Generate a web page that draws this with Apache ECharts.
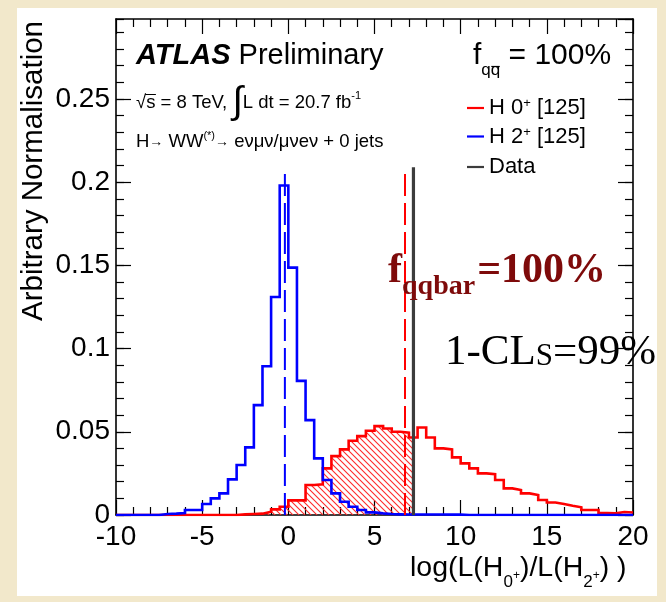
<!DOCTYPE html>
<html>
<head>
<meta charset="utf-8">
<script src="https://cdn.jsdelivr.net/npm/echarts@6/dist/echarts.min.js"></script>
<style>
  html, body { margin: 0; padding: 0; background: #f2e8cb; }
  #chart { width: 666px; height: 602px; }
</style>
</head>
<body>
<div id="chart"></div>
<script>
const SANS = '"Liberation Sans", Arial, Helvetica, sans-serif';
const SERIF = '"Liberation Serif", "Times New Roman", serif';

// Histogram binning: 60 bins of width 0.5 covering -10 .. 20
const binStart = -10;
const binWidth = 0.5;

// Pseudo-experiment distributions of the test statistic (arbitrary normalisation)
const h0Values = [
  0, 0, 0, 0, 0, 0, 0, 0, 0, 0,
  0, 0, 0, 0, 0.0004, 0.0006, 0.0008, 0.002, 0.0034, 0.005,
  0.0088, 0.0088, 0.018, 0.0185, 0.028, 0.0354, 0.0394, 0.0446, 0.0474, 0.0506,
  0.0534, 0.052, 0.050, 0.0494, 0.0466, 0.0526, 0.0466, 0.040, 0.0394, 0.0346,
  0.031, 0.028, 0.025, 0.0245, 0.021, 0.016, 0.015, 0.013, 0.012, 0.009,
  0.0075, 0.0066, 0.0055, 0.0046, 0.003, 0.003, 0.0012, 0.001, 0.0018, 0.0015
];
const h2Values = [
  0, 0, 0, 0, 0, 0.0006, 0.0008, 0.0012, 0.003, 0.003,
  0.0066, 0.010, 0.013, 0.0214, 0.030, 0.0406, 0.066, 0.0894, 0.131, 0.198,
  0.1486, 0.0806, 0.057, 0.034, 0.021, 0.013, 0.008, 0.005, 0.003, 0.0016,
  0.001, 0.0006, 0.0004, 0.0003, 0.0003, 0.0003, 0.0003, 0.0003, 0.0002, 0.0002,
  0, 0, 0, 0, 0, 0, 0, 0, 0, 0,
  0, 0, 0, 0, 0, 0, 0, 0, 0, 0
];

// Medians of the two hypotheses and the observed value
const h2Median = -0.2;
const h0Median = 6.77;
const observedValue = 7.26;
const markerTop = 0.209;

// Axis ranges and steps
const xRange = [-10, 20];
const xStep = 5;
const yRange = [0, 0.298];
const yStep = 0.05;
const yMinorStep = 0.01;

// Legend entries
const legendNames = ['H0', 'H2', 'Data'];
const legendLabels = {
  H0: '{t|H 0}{s|+}{t| [125]}',
  H2: '{t|H 2}{s|+}{t| [125]}',
  Data: '{t|Data}'
};
const legendRowTop = [97, 125.5, 156];

// Step-histogram points: left edge of every bin plus a closing point
function stepPoints(values, cutAt) {
  const pts = [];
  for (let i = 0; i < values.length; i++) {
    const x = binStart + i * binWidth;
    if (cutAt !== undefined && x >= cutAt) break;
    pts.push([x, values[i]]);
  }
  const endX = cutAt !== undefined ? cutAt : binStart + values.length * binWidth;
  pts.push([endX, pts[pts.length - 1][1]]);
  return pts;
}

// Diagonal red hatching for the area below the observed value
const hatch = document.createElement('canvas');
hatch.width = 6; hatch.height = 6;
(function () {
  const g = hatch.getContext('2d');
  g.strokeStyle = '#ff2a2a';
  g.lineWidth = 1.1;
  g.beginPath();
  g.moveTo(-1, -1); g.lineTo(7, 7);
  g.moveTo(-1, 5); g.lineTo(1, 7);
  g.moveTo(5, -1); g.lineTo(7, 1);
  g.stroke();
})();

// Text runs with sub/superscripts, laid out with measured widths
const measure = document.createElement('canvas').getContext('2d');
function fontOf(p) {
  return (p.italic ? 'italic ' : '') + (p.bold ? 'bold ' : '') + p.size + 'px ' + (p.family || SANS);
}
function textRun(x, baseline, pieces, color) {
  const els = [];
  let cx = x;
  pieces.forEach(p => {
    const font = fontOf(p);
    measure.font = font;
    const w = measure.measureText(p.t).width;
    const k = (p.family || SANS) === SERIF ? 0.3375 : 0.3465;
    els.push({
      type: 'text', z: 100,
      x: cx, y: baseline - (p.rise || 0) - k * p.size,
      style: { text: p.t, font: font, fill: p.color || color || '#000', align: 'left', verticalAlign: 'middle' }
    });
    cx += w + (p.after || 0);
  });
  return { els: els, end: cx };
}

const graphics = [];
// white plotting panel
graphics.push({ type: 'rect', z: -100, shape: { x: 17, y: 8, width: 640, height: 588 }, style: { fill: '#ffffff' } });

// y axis title
graphics.push({
  type: 'text', z: 100, x: 34, y: 21, rotation: Math.PI / 2,
  style: { text: 'Arbitrary Normalisation', font: '29.5px ' + SANS, fill: '#000', align: 'right', verticalAlign: 'middle' }
});

// x axis title
graphics.push(...textRun(410, 578, [
  { t: 'log(L(H', size: 28.5 },
  { t: '0', size: 17, rise: -10 },
  { t: '+', size: 12, rise: -2 },
  { t: ')/L(H', size: 28.5 },
  { t: '2', size: 17, rise: -10 },
  { t: '+', size: 12, rise: -2 },
  { t: ') )', size: 28.5 }
]).els);

// experiment label
graphics.push(...textRun(136, 66, [
  { t: 'ATLAS', size: 29, bold: true, italic: true },
  { t: ' Preliminary', size: 29 }
]).els);

const r1 = textRun(136, 109, [
  { t: '\u221As = 8 TeV, ', size: 18.5 },
  { t: '\u222B', size: 38, rise: -7 },
  { t: 'L dt = 20.7 fb', size: 18.5 },
  { t: '-1', size: 11, rise: 9 }
]);
graphics.push(...r1.els);
// vinculum over the s of sqrt(s)
measure.font = '18.5px ' + SANS;
const rootW = measure.measureText('\u221A').width;
const sW = measure.measureText('s').width;
graphics.push({ type: 'line', z: 100, shape: { x1: 136 + rootW - 1, y1: 94.5, x2: 136 + rootW + sW + 0.5, y2: 94.5 }, style: { stroke: '#000', lineWidth: 1 } });

graphics.push(...textRun(136, 148, [
  { t: 'H', size: 18.5 },
  { t: '\u2192', size: 14, rise: 1 },
  { t: ' WW', size: 18.5 },
  { t: '(*)', size: 11, rise: 8 },
  { t: '\u2192', size: 14, rise: 1 },
  { t: ' e\u03BD\u03BC\u03BD/\u03BC\u03BDe\u03BD + 0 jets', size: 18.5 }
]).els);

// f_qq fraction in the legend header
const fq = textRun(473, 66, [
  { t: 'f', size: 30 },
  { t: 'qq', size: 17, rise: -10 },
  { t: ' = 100%', size: 30 }
]);
graphics.push(...fq.els);
measure.font = '30px ' + SANS;
const fW = measure.measureText('f').width;
measure.font = '17px ' + SANS;
const qW = measure.measureText('q').width;
graphics.push({ type: 'line', z: 100, shape: { x1: 473 + fW + qW + 0.5, y1: 66.5, x2: 473 + fW + 2 * qW - 0.5, y2: 66.5 }, style: { stroke: '#000', lineWidth: 1.2 } });

// large annotations
graphics.push(...textRun(388, 285, [
  { t: 'f', size: 42, bold: true, family: SERIF },
  { t: 'qqbar', size: 28, bold: true, family: SERIF, rise: -11, after: 2 },
  { t: '=100%', size: 42, bold: true, family: SERIF }
], '#7e0a0a').els);
graphics.push(...textRun(445, 367, [
  { t: '1-CL', size: 43, family: SERIF },
  { t: 'S', size: 31, family: SERIF },
  { t: '=99%', size: 43, family: SERIF }
], '#000').els);

const chart = echarts.init(document.getElementById('chart'), null, { renderer: 'canvas' });

function majorAxis(extra) {
  return Object.assign({
    type: 'value', splitLine: { show: false },
    axisLine: { show: true, onZero: false, lineStyle: { color: '#000', width: 1.6 } },
    axisTick: { show: true, inside: true, length: 15, lineStyle: { color: '#000', width: 1.2 } }
  }, extra);
}
function minorAxis(extra) {
  return Object.assign({
    type: 'value', splitLine: { show: false },
    axisLine: { show: false, onZero: false },
    axisLabel: { show: false },
    axisTick: { show: true, inside: true, length: 8, lineStyle: { color: '#000', width: 1.2 } }
  }, extra);
}
const xMinor = { show: true, splitNumber: 5, length: 8, lineStyle: { color: '#000', width: 1.2 } };
const tickFont = { color: '#000', fontSize: 28, fontFamily: SANS };

const legendText = {
  color: '#000', fontFamily: SANS, fontSize: 22,
  rich: {
    t: { fontSize: 22, lineHeight: 22, fontFamily: SANS, color: '#000' },
    s: { fontSize: 13, lineHeight: 13, fontFamily: SANS, color: '#000', verticalAlign: 'top' }
  }
};

const option = {
  backgroundColor: '#f2e8cb',
  animation: false,
  grid: { left: 116, right: 33, top: 19, bottom: 87, containLabel: false, outerBoundsMode: 'none' },
  xAxis: [
    majorAxis({ position: 'bottom', min: xRange[0], max: xRange[1], interval: xStep, minorTick: xMinor,
      axisLabel: Object.assign({ show: true, margin: 8 }, tickFont) }),
    majorAxis({ position: 'top', min: xRange[0], max: xRange[1], interval: xStep, minorTick: xMinor,
      axisLabel: { show: false } })
  ],
  yAxis: [
    majorAxis({ position: 'left', min: yRange[0], max: yRange[1], interval: yStep,
      axisLabel: Object.assign({ show: true, margin: 6, showMaxLabel: false }, tickFont) }),
    minorAxis({ position: 'left', min: yRange[0], max: yRange[1], interval: yMinorStep }),
    majorAxis({ position: 'right', min: yRange[0], max: yRange[1], interval: yStep, axisLabel: { show: false } }),
    minorAxis({ position: 'right', min: yRange[0], max: yRange[1], interval: yMinorStep })
  ],
  legend: legendNames.map((name, i) => ({
    left: 467, top: legendRowTop[i], padding: 0, itemWidth: 17, itemHeight: 2.2, icon: 'rect',
    selectedMode: false, data: [name],
    formatter: n => legendLabels[n],
    textStyle: legendText
  })),
  graphic: graphics,
  series: [
    {
      name: 'hatch', type: 'line', step: 'end', silent: true, symbol: 'none', z: 2,
      data: stepPoints(h0Values, observedValue),
      lineStyle: { width: 0, opacity: 0 },
      areaStyle: { color: { image: hatch, repeat: 'repeat' }, opacity: 1 }
    },
    {
      name: 'H0', type: 'line', step: 'end', symbol: 'none', z: 3,
      data: stepPoints(h0Values),
      itemStyle: { color: '#ff0000' },
      lineStyle: { color: '#ff0000', width: 2.6, join: 'miter', cap: 'butt' }
    },
    {
      name: 'H2', type: 'line', step: 'end', symbol: 'none', z: 4,
      data: stepPoints(h2Values),
      itemStyle: { color: '#0000ff' },
      lineStyle: { color: '#0000ff', width: 2.6, join: 'miter', cap: 'butt' }
    },
    {
      name: 'H2 median', type: 'line', symbol: 'none', z: 5,
      data: [[h2Median, 0], [h2Median, markerTop]],
      lineStyle: { color: '#0000ff', width: 2, type: [22, 7] }
    },
    {
      name: 'H0 median', type: 'line', symbol: 'none', z: 5,
      data: [[h0Median, 0], [h0Median, markerTop]],
      lineStyle: { color: '#ff0000', width: 2, type: [22, 7] }
    },
    {
      name: 'Data', type: 'line', symbol: 'none', z: 6,
      data: [[observedValue, 0], [observedValue, markerTop]],
      itemStyle: { color: '#3c3c3c' },
      lineStyle: { color: '#3c3c3c', width: 3.2 }
    }
  ]
};
chart.setOption(option);
</script>
</body>
</html>
